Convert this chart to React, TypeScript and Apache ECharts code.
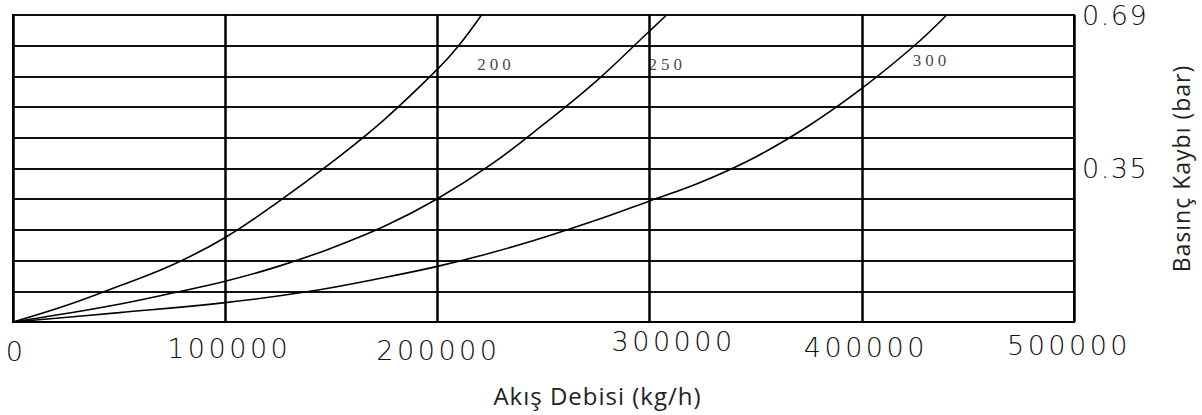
import { useEffect, useRef } from 'react';
import * as echarts from 'echarts';

// ---- data ----
const xTicks = [0, 100000, 200000, 300000, 400000, 500000];
const yMax = 0.69;
const yStep = 0.069;
const yLabelValues = ['0.35', '0.69'];
const curveNames = ['200', '250', '300'];

const flow200 = [0, 25000, 50000, 75000, 100000, 125000, 150000, 175000, 200000, 210000, 220800];
const loss200 = [0, 0.037, 0.081, 0.128, 0.19, 0.27, 0.358, 0.455, 0.568, 0.621, 0.69];

const flow250 = [0, 25000, 50000, 75000, 100000, 125000, 150000, 175000, 200000, 225000, 250000, 275000, 300000, 308000];
const loss250 = [0, 0.019, 0.04, 0.065, 0.0915, 0.125, 0.166, 0.215, 0.277, 0.353, 0.444, 0.542, 0.654, 0.69];

const flow300 = [0, 50000, 100000, 140000, 175000, 200000, 225000, 250000, 275000, 300000, 325000, 350000, 375000, 400000, 425000, 440000];
const loss300 = [0, 0.021, 0.0436, 0.069, 0.1, 0.125, 0.155, 0.19, 0.229, 0.272, 0.316, 0.371, 0.441, 0.525, 0.622, 0.69];

const labelFlow = [227600, 308300, 432800];
const labelLoss = [0.578, 0.578, 0.587];

const xName = 'Akış Debisi (kg/h)';
const yName = 'Basınç Kaybı (bar)';

// ---- styling (per-label offsets of the x tick labels, px) ----
const xLabelShift = [3, 4, 1, 24, 4, -5];
const xLabelCenter = [29, 26, 28, 19, 25, 23];

const tickFont = "'DejaVu Sans', sans-serif";
const yTickFont = "'DejaVu Sans', Verdana, sans-serif";
const nameFont = "'Open Sans', sans-serif";
const curveFont = "'Liberation Serif', serif";

const css = `
#root text[style*="DejaVu"] { letter-spacing: 3.5px; }
#root text[style*="Verdana"] { letter-spacing: 1.5px; }
#root text[style*="Open Sans"] { letter-spacing: 1px; }
#root text[style*="Liberation Serif"] { letter-spacing: 4px; }
`;

export default function App() {
  const ref = useRef<HTMLDivElement>(null);
  useEffect(() => {
    document.body.style.margin = '0';
    const chart = echarts.init(ref.current!, null, { renderer: 'svg' });
    const rich: Record<string, any> = {};
    xTicks.forEach((_, i) => {
      const s = xLabelShift[i];
      rich['t' + i] = {
        fontSize: 27,
        fontFamily: tickFont,
        fontWeight: 200,
        color: '#111',
        align: 'center',
        lineHeight: xLabelCenter[i] * 2,
        padding: s >= 0 ? [0, 0, 0, 2 * s] : [0, -2 * s, 0, 0],
      };
    });
    const zip = (xs: number[], ys: number[]) => xs.map((x, i) => [x, ys[i]]);
    const curves = [zip(flow200, loss200), zip(flow250, loss250), zip(flow300, loss300)];
    chart.setOption({
      animation: false,
      backgroundColor: '#fff',
      grid: {
        left: 13,
        right: 128,
        top: 15,
        bottom: 93,
        containLabel: false,
        outerBoundsMode: 'none',
        show: true,
        borderColor: '#000',
        borderWidth: 2,
      },
      xAxis: {
        type: 'value',
        min: 0,
        max: 500000,
        interval: 100000,
        name: xName,
        nameLocation: 'middle',
        nameGap: 61,
        nameTextStyle: {
          fontFamily: nameFont,
          fontSize: 24,
          color: '#222',
          padding: [0, 0, 0, 108],
        },
        axisLine: { show: true, lineStyle: { color: '#000', width: 2 } },
        axisTick: { show: false },
        splitLine: { show: true, lineStyle: { color: '#000', width: 2.5 } },
        axisLabel: {
          margin: 0,
          showMinLabel: true,
          showMaxLabel: true,
          formatter: (v: number) => {
            const i = xTicks.indexOf(v);
            return i < 0 ? '' : `{t${i}|${v}}`;
          },
          rich,
        },
      },
      yAxis: {
        type: 'value',
        position: 'right',
        min: 0,
        max: yMax,
        interval: yStep,
        name: yName,
        nameLocation: 'middle',
        nameRotate: 90,
        nameGap: 95,
        nameTextStyle: {
          fontFamily: nameFont,
          fontSize: 23,
          color: '#222',
        },
        axisLine: { show: true, lineStyle: { color: '#000', width: 2 } },
        axisTick: { show: false },
        splitLine: { show: true, lineStyle: { color: '#111', width: 1.8 } },
        axisLabel: {
          margin: 8,
          showMinLabel: true,
          showMaxLabel: true,
          fontSize: 27,
          fontFamily: yTickFont,
          fontWeight: 200,
          color: '#111',
          padding: [10, 0, 0, 0],
          formatter: (v: number) => {
            if (Math.abs(v - yMax / 2) < 1e-6) return yLabelValues[0];
            if (Math.abs(v - yMax) < 1e-6) return yLabelValues[1];
            return '';
          },
        },
      },
      series: [
        ...curves.map((d, i) => ({
          type: 'line',
          name: curveNames[i],
          data: d,
          smooth: 0.4,
          showSymbol: false,
          symbol: 'none',
          silent: true,
          lineStyle: { color: '#000', width: 1.6 },
        })),
        {
          type: 'scatter',
          silent: true,
          symbolSize: 0,
          data: curveNames.map((n, i) => ({ name: n, value: [labelFlow[i], labelLoss[i]] })),
          label: {
            show: true,
            position: 'inside',
            formatter: '{b}',
            fontFamily: curveFont,
            fontSize: 17,
            color: '#111',
          },
        },
      ],
    });
    return () => chart.dispose();
  }, []);
  return (
    <>
      <style>{css}</style>
      <div ref={ref} style={{ width: 1202, height: 415 }} />
    </>
  );
}
